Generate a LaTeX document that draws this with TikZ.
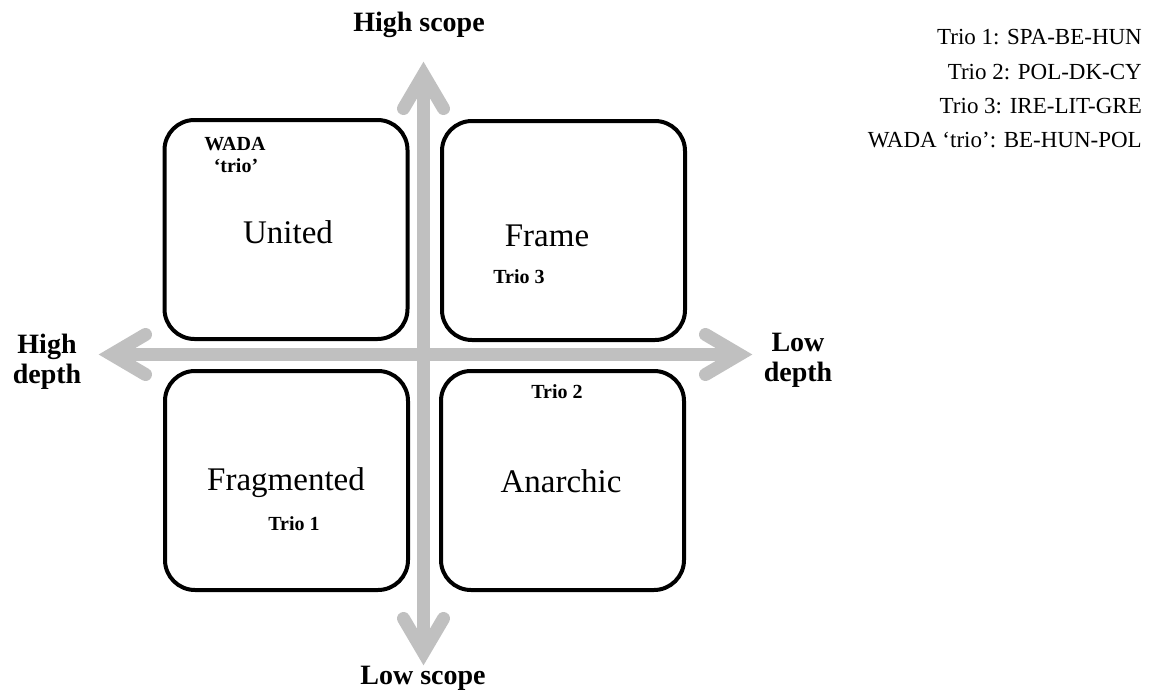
\documentclass[tikz,border=0pt]{standalone}
\usepackage{fontspec}
\setmainfont{Liberation Serif}
\definecolor{axisgray}{RGB}{192,192,192}
\tikzset{
  axisline/.style={line width=13pt, draw=axisgray},
  barb/.style={line width=13pt, draw=axisgray, line cap=round, line join=miter, miter limit=10},
  chev/.pic={\draw[barb] (-46.5,20) -- (-12.5,0) -- (-46.5,-20);},
  quad/.style={draw=black, line width=4pt, rounded corners=30pt, fill=white,
    minimum width=243pt, minimum height=219pt, inner sep=0pt},
  big/.style={font=\fontsize{33}{36}\selectfont, inner sep=0pt, anchor=base},
  tag/.style={font=\bfseries\fontsize{20}{22}\selectfont, inner sep=0pt, anchor=base},
  axlabel/.style={font=\bfseries\fontsize{28}{30}\selectfont, inner sep=0pt, align=center},
  legend/.style={font=\fontsize{23}{25}\selectfont, inner sep=0pt, anchor=base east}
}
\begin{document}
\begin{tikzpicture}[x=1pt,y=1pt]
\useasboundingbox (0,0) rectangle (1159,-693);

% axis end points
\coordinate (vtop) at (423.5,-62);
\coordinate (vbot) at (423.5,-665);
\coordinate (hleft) at (99,-354.5);
\coordinate (hright) at (752,-354.5);

% axes: shafts and chevron heads
\draw[axisline] ([yshift=-12.5pt]vtop) -- ([yshift=12.5pt]vbot);
\draw[axisline] ([xshift=12.5pt]hleft) -- ([xshift=-12.5pt]hright);
\pic[rotate=90] at (vtop) {chev};
\pic[rotate=-90] at (vbot) {chev};
\pic[rotate=180] at (hleft) {chev};
\pic at (hright) {chev};

% quadrants
\node[quad] (ul) at (286,-229.5) {};
\node[quad] (ur) at (563.5,-230.5) {};
\node[quad] (bl) at (286.5,-480.5) {};
\node[quad] (br) at (562.5,-480.5) {};

% quadrant texts
\node[big] (united) at (288,-243) {United};
\node[tag] (wada) at (235,-150) {WADA};
\node[tag] (wadatrio) at (236,-172) {‘trio’};
\node[big] (frame) at (547,-246) {Frame};
\node[tag] (trio3) at (519,-283) {Trio 3};
\node[tag] (trio2) at (557,-398) {Trio 2};
\node[big] (frag) at (286,-490) {Fragmented};
\node[tag] (trio1) at (294,-530) {Trio 1};
\node[big] (anar) at (561,-492) {Anarchic};

% axis labels
\node[axlabel, anchor=base] (hs) at (419,-32) {High scope};
\node[axlabel, anchor=base] (ls) at (423,-684) {Low scope};
\node[axlabel] (hd) at (47,-361.5) {High\\depth};
\node[axlabel] (ld) at (798,-360.7) {Low\\depth};

% legend
\node[legend] (l1) at (1142,-45) {Trio 1: SPA-BE-HUN};
\node[legend] (l2) at (1142,-79) {Trio 2: POL-DK-CY};
\node[legend] (l3) at (1142,-113) {Trio 3: IRE-LIT-GRE};
\node[legend] (l4) at (1142,-147) {WADA ‘trio’: BE-HUN-POL};
\end{tikzpicture}
\end{document}
